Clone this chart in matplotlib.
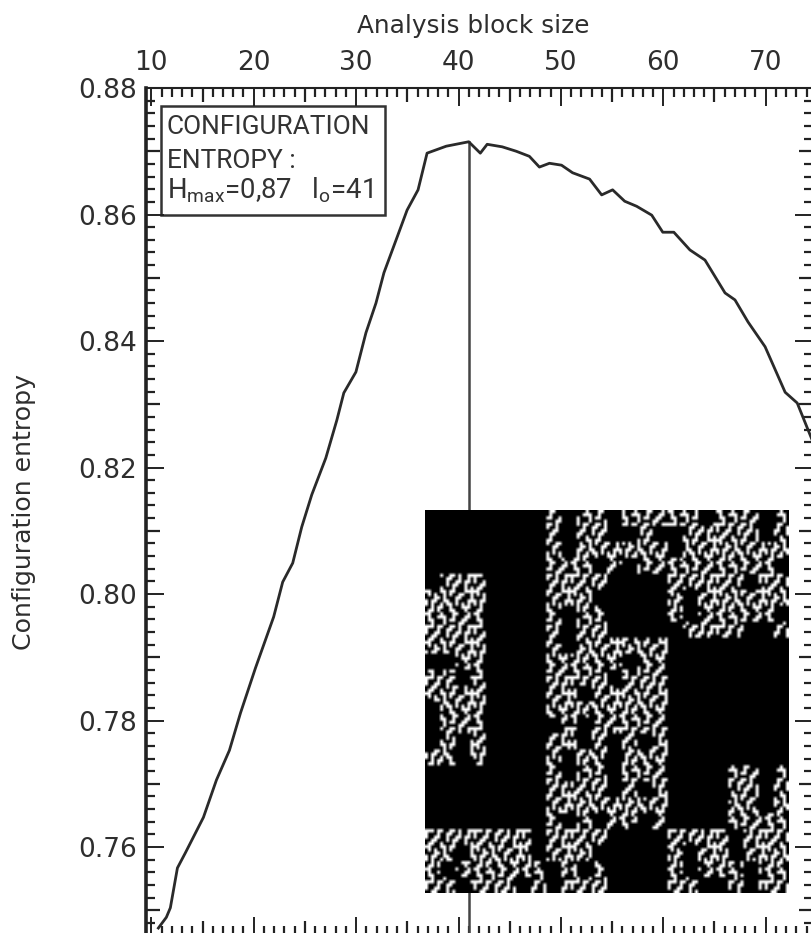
import numpy as np
from matplotlib import pyplot as plt
from matplotlib.patches import Rectangle
from matplotlib.ticker import MultipleLocator

W, H = 812, 933

block_size = [10.69, 11.47, 11.86, 12.55, 13.33, 15.09, 16.36, 17.63, 18.71, 20.17, 21.95, 22.83,
              23.81, 24.69, 25.67, 27.04, 28.12, 28.8, 29.98, 30.96, 31.94, 32.72, 34.0, 34.98,
              36.05, 36.93, 38.8, 41.0, 42.13, 42.8, 44.27, 45.64, 46.92, 47.9, 48.88, 50.06,
              51.14, 52.8, 53.98, 55.05, 56.23, 57.4, 58.87, 59.95, 61.03, 62.6, 64.07, 66.03,
              67.0, 68.28, 69.94, 71.9, 73.08, 74.55]
entropy = [.7472, .7489, .7504, .7567, .7591, .7647, .7706, .7753, .7812, .7883, .7964, .8019,
           .8049, .8106, .8157, .8215, .8275, .8318, .8351, .8413, .8460, .8508, .8564, .8607,
           .8639, .8697, .8708, .8715, .8697, .8711, .8707, .8700, .8692, .8675, .8681, .8678,
           .8666, .8656, .8631, .8639, .8621, .8613, .8599, .8572, .8572, .8544, .8528, .8476,
           .8465, .8430, .8391, .8319, .8302, .8243]
peak_size = 41
peak_entropy = .8715

x_ticks = [10, 20, 30, 40, 50, 60, 70]
y_ticks = [0.76, 0.78, 0.80, 0.82, 0.84, 0.86, 0.88]

# which parts of the inset map are mottled, read by eye on a 24x24 grid
inset_zones = [
    "000000001011011111011101",
    "000000001011001001111101",
    "000000001011111101111111",
    "000000001110101111111110",
    "011100001111000011111011",
    "111100001110000010111111",
    "111100001011000010111110",
    "111100001011000001111001",
    "111100001011111100000000",
    "001100001111101100000000",
    "110100001111011100000000",
    "111100001101111100000000",
    "011100001111111100000000",
    "011100000101111100000000",
    "010100001101010100000000",
    "110100001011011100000000",
    "000000001011011100001101",
    "000000001111010100001101",
    "000000001111111100001101",
    "000000001010110100001111",
    "111111101111000011110111",
    "110111101110000010110111",
    "101111110101000010111011",
    "110111010111000011001011",
]

# hand drawn speckle used to fill the mottled zones, not measured cell by cell
speckle = [
    "1100010001100010",
    "0100111001000110",
    "0110001011001100",
    "0010001000011000",
    "1110110011010011",
    "1000100110010010",
    "1001100100110110",
    "0011000101100100",
    "0110010001000101",
    "1100011011000111",
    "0101001010011001",
    "0001101000110001",
    "1011001100100011",
    "1010010110101010",
    "0010110010001110",
    "0110100011000100",
]

plt.rcParams['font.family'] = ['DejaVu Sans']
plt.rcParams['mathtext.default'] = 'regular'

fig = plt.figure(figsize=(W / 100, H / 100), dpi=100)
ax = fig.add_axes([146.5 / W, -2 / H, 666.5 / W, 847 / H])
ax.set_xlim(9.53, 74.62)
ax.set_ylim(0.7461, 0.88)

ax.plot([peak_size, peak_size], [0.7461, peak_entropy], color='#444444', lw=1.8)
ax.plot(block_size, entropy, color='#2a2a2a', lw=2.0)

ax.set_xticks(x_ticks)
ax.set_yticks(y_ticks)
ax.set_yticklabels(['%.2f' % v for v in y_ticks])
ax.xaxis.set_minor_locator(MultipleLocator(1))
ax.yaxis.set_minor_locator(MultipleLocator(0.002))
ax.tick_params(which='major', direction='in', top=True, right=True, bottom=True, left=True,
               labeltop=True, labelbottom=False, length=13, width=1.4, labelsize=19,
               color='#222222', labelcolor='#2e2e2e')
ax.tick_params(axis='x', which='major', pad=8.5)
ax.tick_params(axis='y', which='major', pad=6.5)
ax.tick_params(which='minor', direction='in', top=True, right=True, bottom=True, left=True,
               length=6.5, width=1.6, color='#222222')

# the ticks halfway between the labelled ones are a bit longer
for axis, step in ((ax.xaxis, 10), (ax.yaxis, 0.02)):
    for tick, loc in zip(axis.get_minor_ticks(), axis.get_minorticklocs()):
        if abs((loc + step / 2) / step - round((loc + step / 2) / step)) < 1e-6:
            tick.tick1line.set_markersize(10)
            tick.tick2line.set_markersize(10)

ax.set_xlabel('Analysis block size', fontsize=17.8, color='#2e2e2e', labelpad=12.5, x=0.4895)
ax.xaxis.set_label_position('top')
ax.set_ylabel('Configuration entropy', fontsize=18.2, color='#2e2e2e', labelpad=31, y=0.5)

ax.spines['left'].set_linewidth(2.6)
ax.spines['top'].set_linewidth(1.5)
for s in ax.spines.values():
    s.set_color('#222222')

ax.add_patch(Rectangle((10.95, 0.8599), 21.88, 0.0173, fill=False, ec='#333333', lw=1.8))
for y, label, size in ((0.8727, 'CONFIGURATION', 18.9), (0.8674, 'ENTROPY :', 18.9),
                       (0.8625, 'H$_{max}$=0,87   l$_{o}$=41', 19.8)):
    ax.text(11.5, y, label, family='Roboto', fontsize=size, color='#333333', va='baseline', ha='left')

# inset map, drawn over the vertical line
zones = np.array([[int(c) for c in row] for row in inset_zones])
fill = np.array([[int(c) for c in row] for row in speckle])
mask = np.kron(zones, np.ones((5, 5)))
map_values = mask * np.tile(fill, (8, 8))[:120, :120]

inset = fig.add_axes([425.5 / W, 1 - 893 / H, 363.5 / W, 383 / H])
inset.imshow(map_values, cmap='gray', vmin=0, vmax=1, interpolation='bilinear', aspect='auto')
inset.axis('off')

plt.savefig('out.png', dpi=100)
